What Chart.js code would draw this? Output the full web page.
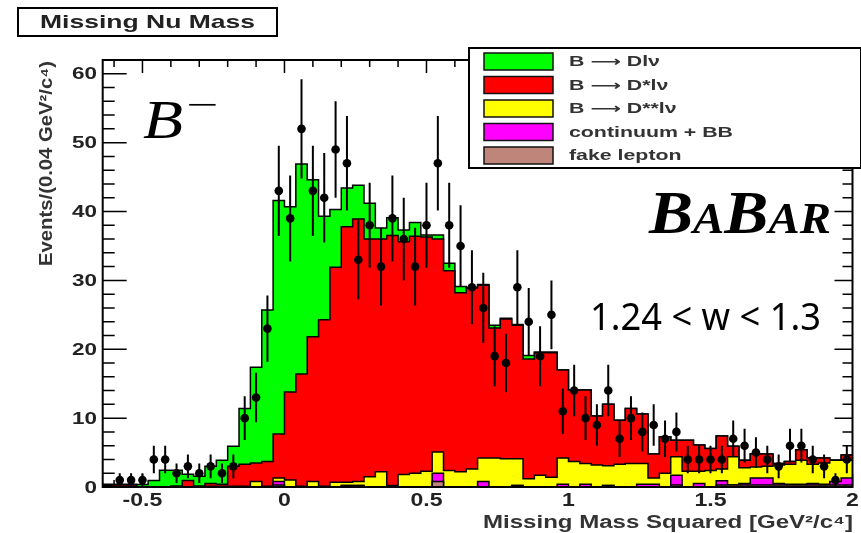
<!DOCTYPE html>
<html>
<head>
<meta charset="utf-8">
<script src="https://cdn.jsdelivr.net/npm/chart.js@4.4.1/dist/chart.umd.min.js"></script>
<style>
  html, body { margin: 0; padding: 0; background: #fff; }
</style>
</head>
<body>
<canvas id="mm2" width="861" height="533"></canvas>
<script>
// missing mass squared, B- sample, 1.24 < w < 1.3
// 66 bins of 0.04 GeV^2/c^4 starting at -0.64
const binLo = -0.64, binWidth = 0.04, nBins = 66;

// data, events per bin (first bin empty)
const dataCounts = [null,1,1,1,4,4,2,3,2,3, 2,3,10,13,23,43,39,52,43,42,
  49,47,33,38,32,39,36,32,38,47, 38,35,29,26,19,18,29,24,19,25,
  11,14,10,9,14,7,10,8,9,7, 8,4,4,4,4,7,6,5,4,3, 6,6,4,3,1,4];

// MC components, contents per bin (stacked bottom to top)
const fakeLepton = [0,0,0,0,0,0,0,0,0,0, 0,0,0,0,0,0.3,0,0,0,0,
  0,0.2,0.2,0,0,0,0,0,0,0.8, 0,0,0,0,0,0,0.2,0,0,0,
  0,0,0,0,0.2,0,0,0,0,0, 0.3,0,0,0,0.3,0.3,0.3,0.3,0.3,0.3, 0.3,0.3,0.3,0.3,0.3,0.3];
const continuum = [0,0,0,0,0,0,0,0,0,0, 0,0,0,0,0,0.5,0,0,0,0,
  0,0,0,0,0,0,0,0,0,1.2, 0,0,0,0.8,0,0,0,0,0,0,
  0.4,0,0.4,0,0,0,0,0.4,0.4,0, 1.4,0,0.5,0,0.6,0,0.2,1.0,1.0,0.2, 0.1,0.1,0.2,0.1,0.5,1.0];
const dssLnu = [0.2,0,0,0,0,0,0,0,0,0.1, 0.1,0.1,0.1,0.8,0.1,0.5,1.0,0.1,0.8,0.1,
  0.7,0.5,0.6,1.5,2.2,0.2,1.8,2.0,2.3,3.1, 2.4,2.2,2.6,3.4,4.2,4.1,3.9,1.2,1.7,1.4,
  3.8,3.7,3.0,3.2,2.9,3.3,3.4,3.0,0.9,2.0, 2.7,2.3,1.8,2.4,1.7,4.1,2.3,1.6,1.7,2.7, 2.9,3.5,2.8,3.1,3.1,2.6];
const dsLnu = [0.1,0.3,0.3,0.05,0.05,0.05,0.15,0.95,0.15,0.4, 0.3,2.9,3.2,2.7,3.6,6.4,12.8,16.3,21.0,24.2,
  31.2,37.1,38.1,34.5,33.8,36.3,33.8,34.4,34.0,30.9, 29.0,26.0,26.3,25.1,18.9,20.3,19.4,17.4,17.8,18.1,
  12.8,10.4,10.7,7.1,8.9,6.4,8.0,7.2,3.5,5.3, 2.4,4.5,3.8,3.2,4.8,1.5,1.1,1.9,1.8,0.2, 0.4,1.5,0.9,0.7,0,0.75];
const dLnu = [0.1,0.1,0.1,0.3,0.9,2.4,2.3,0.9,1.4,2.5, 3.5,2.9,8.1,13.9,22.0,33.9,26.9,30.5,22.8,15.0,
  8.4,5.6,4.9,5.2,1.6,2.6,1.7,2.0,0.3,0.6, 1.1,0.9,0.1,0.1,0.4,0.1,0.1,0.5,0.1,0.1,
  0,0,0,0,0,0,0,0,0,0, 0,0,0,0,0,0,0,0,0,0, 0,0,0,0,0,0];

const xTickValues = [-0.5, 0, 0.5, 1, 1.5, 2];
const yTickValues = [0, 10, 20, 30, 40, 50, 60];

const components = [
  { label: 'fake lepton',          values: fakeLepton, color: '#c0857a' },
  { label: 'continuum + BB',       values: continuum,  color: '#ff00ff' },
  { label: 'B \u27f6 D**l\u03bd',  values: dssLnu,     color: '#ffff00' },
  { label: 'B \u27f6 D*l\u03bd',   values: dsLnu,      color: '#ff0000' },
  { label: 'B \u27f6 Dl\u03bd',    values: dLnu,       color: '#00ff00' }
];

const edges = Array.from({ length: nBins + 1 }, (_, i) => +(binLo + i * binWidth).toFixed(2));

function stepData(arr) {
  return edges.map((x, i) => ({ x, y: arr[Math.min(i, nBins - 1)] }));
}

const pointData = [];
dataCounts.forEach((n, i) => {
  if (n === null) return;
  pointData.push({ x: +(binLo + (i + 0.5) * binWidth).toFixed(2), y: n });
});

const SANS = '"Liberation Sans", Arial, Helvetica, "DejaVu Sans", sans-serif';
const SERIF = '"Liberation Serif", "Times New Roman", serif';

// text squeezed/stretched horizontally to a width
function putText(ctx, txt, x, y, font, opts) {
  opts = opts || {};
  ctx.save();
  ctx.font = font;
  ctx.fillStyle = opts.color || '#111';
  ctx.textAlign = opts.align || 'left';
  ctx.textBaseline = opts.baseline || 'middle';
  let sx = opts.sx || 1;
  if (opts.width) sx = opts.width / ctx.measureText(txt).width;
  ctx.translate(x, y);
  if (opts.rotate) ctx.rotate(opts.rotate);
  ctx.scale(sx, 1);
  ctx.fillText(txt, 0, 0);
  ctx.restore();
  return sx;
}

// inward ticks on all four sides, drawn under the histograms
const frameTicks = {
  id: 'frameTicks',
  beforeDatasetsDraw(chart) {
    const { ctx, chartArea: a, scales: { x, y } } = chart;
    ctx.save();
    ctx.strokeStyle = '#000';
    ctx.lineWidth = 1.5;
    ctx.beginPath();
    for (let k = -6; k <= 20; k++) {
      const v = k / 10;
      const px = x.getPixelForValue(v);
      const len = (k % 5 === 0) ? 13 : 7;
      ctx.moveTo(px, a.top); ctx.lineTo(px, a.top + len);
      ctx.moveTo(px, a.bottom); ctx.lineTo(px, a.bottom - len);
    }
    for (let v = 0; v <= 62; v += 2) {
      const py = y.getPixelForValue(v);
      const major = v % 10 === 0;
      ctx.moveTo(a.left, py); ctx.lineTo(a.left + (major ? 24 : 12), py);
      ctx.moveTo(a.right, py); ctx.lineTo(a.right - (major ? 18 : 10), py);
    }
    ctx.stroke();
    ctx.restore();
  }
};

// poisson error bars on the data points
const errorBars = {
  id: 'errorBars',
  afterDatasetsDraw(chart) {
    const { ctx, scales: { x, y } } = chart;
    ctx.save();
    ctx.strokeStyle = '#000';
    ctx.lineWidth = 2;
    ctx.beginPath();
    pointData.forEach(p => {
      const e = Math.sqrt(p.y);
      const px = x.getPixelForValue(p.x);
      ctx.moveTo(px, y.getPixelForValue(Math.max(0, p.y - e)));
      ctx.lineTo(px, y.getPixelForValue(p.y + e));
    });
    ctx.stroke();
    ctx.restore();
  }
};

const decorations = {
  id: 'decorations',
  afterDraw(chart) {
    const { ctx, chartArea: a, scales: { x, y } } = chart;

    // frame
    ctx.save();
    ctx.strokeStyle = '#000';
    ctx.lineWidth = 2;
    ctx.strokeRect(a.left, a.top, a.right - a.left, a.bottom - a.top);
    ctx.restore();

    // tick labels
    yTickValues.forEach(v => {
      putText(ctx, String(v), 97, y.getPixelForValue(v) + 1, 'bold 17px ' + SANS,
              { align: 'right', sx: 1.32, color: '#222' });
    });
    xTickValues.forEach(v => {
      putText(ctx, String(v), x.getPixelForValue(v), 501, 'bold 18px ' + SANS,
              { align: 'center', sx: 1.28, color: '#222' });
    });

    // axis titles
    putText(ctx, 'Missing Mass Squared [GeV\u00b2/c\u2074]', 853, 523, 'bold 18px ' + SANS,
            { align: 'right', width: 370, color: '#333' });
    putText(ctx, 'Events/(0.04 GeV\u00b2/c\u2074)', 47, 61, 'bold 18px ' + SANS,
            { align: 'right', width: 205, rotate: -Math.PI / 2, color: '#333' });

    // histogram title box
    ctx.save();
    ctx.fillStyle = '#fff';
    ctx.fillRect(18, 8, 259, 28);
    ctx.strokeStyle = '#000';
    ctx.lineWidth = 2;
    ctx.strokeRect(18, 8, 259, 28);
    ctx.restore();
    putText(ctx, 'Missing Nu Mass', 147.5, 23, 'bold 19px ' + SANS,
            { align: 'center', width: 215, color: '#222' });

    // legend
    const lx = 469, ly = 48, lw = 392, lh = 120;
    ctx.save();
    ctx.fillStyle = '#fff';
    ctx.fillRect(lx, ly, lw, lh);
    ctx.strokeStyle = '#000';
    ctx.lineWidth = 2;
    ctx.strokeRect(lx, ly, lw, lh);
    ctx.restore();
    const legendOrder = [4, 3, 2, 1, 0];
    let sx = null;
    ctx.save();
    ctx.font = 'bold 14px ' + SANS;
    sx = 164 / ctx.measureText('continuum + BB').width;
    ctx.restore();
    legendOrder.forEach((k, row) => {
      const c = components[k];
      const cy = 61.5 + row * 23.5;
      ctx.save();
      ctx.fillStyle = c.color;
      ctx.fillRect(484, cy - 8.5, 69, 17);
      ctx.strokeStyle = '#111';
      ctx.lineWidth = 1.5;
      ctx.strokeRect(484, cy - 8.5, 69, 17);
      ctx.restore();
      putText(ctx, c.label, 569, cy + 1, 'bold 14px ' + SANS, { sx, color: '#333' });
    });

    // B- label
    putText(ctx, 'B', 143, 138, 'italic 54px ' + SERIF,
            { baseline: 'alphabetic', width: 40, color: '#000' });
    putText(ctx, '\u2212', 186, 107, '34px ' + SERIF,
            { width: 32, color: '#000' });

    // BaBar logo
    const parts = [['B', 62], ['A', 44], ['B', 62], ['AR', 44]];
    ctx.save();
    let total = 0;
    parts.forEach(p => { ctx.font = 'italic bold ' + p[1] + 'px ' + SERIF; total += ctx.measureText(p[0]).width; });
    const lsx = 182 / total;
    ctx.translate(649, 233);
    ctx.scale(lsx, 1);
    ctx.fillStyle = '#000';
    ctx.textBaseline = 'alphabetic';
    let cx = 0;
    parts.forEach(p => {
      ctx.font = 'italic bold ' + p[1] + 'px ' + SERIF;
      ctx.fillText(p[0], cx, 0);
      cx += ctx.measureText(p[0]).width;
    });
    ctx.restore();

    // w range
    putText(ctx, '1.24 < w < 1.3', 590, 330, '38px "Noto Sans", sans-serif',
            { baseline: 'alphabetic', width: 231, color: '#000' });
  }
};

const datasets = [{
  type: 'line',
  label: 'data',
  data: pointData,
  showLine: false,
  pointRadius: 4.3,
  pointHoverRadius: 4.3,
  pointBackgroundColor: '#000',
  pointBorderWidth: 0,
  stack: 'pts',
  order: 0
}];
components.forEach((c, k) => {
  datasets.push({
    type: 'line',
    label: c.label,
    data: stepData(c.values),
    stepped: 'before',
    fill: k === 0 ? 'origin' : '-1',
    backgroundColor: c.color,
    borderColor: '#000',
    borderWidth: 1.5,
    pointRadius: 0,
    stack: 'mc',
    order: 1
  });
});

new Chart(document.getElementById('mm2'), {
  type: 'line',
  data: { datasets },
  options: {
    responsive: false,
    devicePixelRatio: 1,
    animation: false,
    layout: { padding: { left: 102.7, top: 60, right: 8.5, bottom: 46 } },
    plugins: { legend: { display: false }, tooltip: { enabled: false }, title: { display: false } },
    scales: {
      x: { type: 'linear', min: binLo, max: 2.0, display: false },
      y: { type: 'linear', min: 0, max: 62, stacked: true, display: false }
    }
  },
  plugins: [frameTicks, errorBars, decorations]
});
</script>
</body>
</html>
